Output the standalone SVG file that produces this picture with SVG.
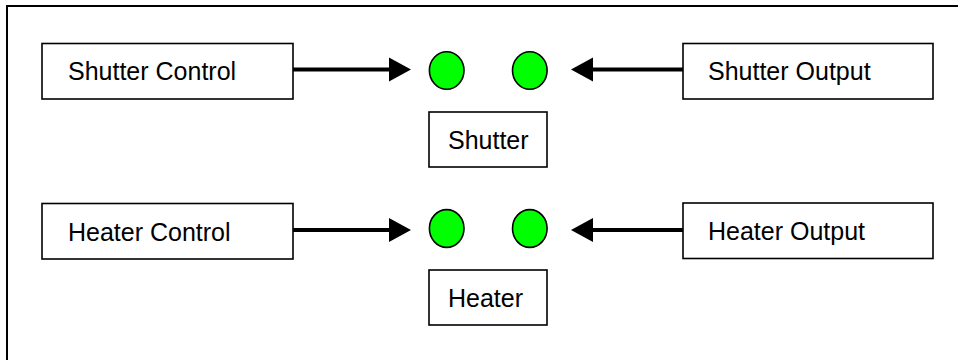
<svg xmlns="http://www.w3.org/2000/svg" width="958" height="360" viewBox="0 0 958 360">
  <defs>
    <marker id="arr" markerUnits="userSpaceOnUse" markerWidth="23" markerHeight="25" refX="1" refY="12" orient="auto" overflow="visible">
      <path d="M0,0 L22,12 L0,24 Z" fill="#000"/>
    </marker>
    <style>
      .box { fill: #fff; stroke: #000; stroke-width: 1.6; }
      .led { fill: #00ff00; stroke: #000; stroke-width: 1.6; }
      .lbl { font-family: "Liberation Sans", Arial, sans-serif; font-size: 25px; fill: #000; }
      .conn { stroke: #000; stroke-width: 4; fill: none; }
      .frame { stroke: #000; stroke-width: 2; fill: none; }
    </style>
  </defs>
  <rect x="0" y="0" width="958" height="360" fill="#fff"/>
  <path class="frame" d="M7,362 L7,6 L960,6"/>

  <g id="shutter-control">
    <rect class="box" x="42" y="43.5" width="251" height="55.5"/>
    <text class="lbl" x="68" y="80">Shutter Control</text>
  </g>
  <g id="shutter-output">
    <rect class="box" x="683" y="43.5" width="250" height="55.5"/>
    <text class="lbl" x="708" y="80">Shutter Output</text>
  </g>
  <g id="shutter-led-in">
    <ellipse class="led" cx="446.7" cy="70.5" rx="17.3" ry="18.7"/>
  </g>
  <g id="shutter-led-out">
    <ellipse class="led" cx="529.8" cy="70.5" rx="17.3" ry="18.7"/>
  </g>
  <g id="shutter">
    <rect class="box" x="429" y="112" width="118" height="55"/>
    <text class="lbl" x="448" y="148.5">Shutter</text>
  </g>

  <g id="heater-control">
    <rect class="box" x="42" y="203.5" width="251" height="55.5"/>
    <text class="lbl" x="68" y="240.5">Heater Control</text>
  </g>
  <g id="heater-output">
    <rect class="box" x="683" y="203" width="250" height="55.5"/>
    <text class="lbl" x="708" y="240">Heater Output</text>
  </g>
  <g id="heater-led-in">
    <ellipse class="led" cx="446.7" cy="228.5" rx="17.3" ry="18.9"/>
  </g>
  <g id="heater-led-out">
    <ellipse class="led" cx="529.8" cy="228.5" rx="17.3" ry="18.9"/>
  </g>
  <g id="heater">
    <rect class="box" x="429" y="270" width="118" height="55"/>
    <text class="lbl" x="448" y="307">Heater</text>
  </g>

  <g id="connectors">
    <line class="conn" x1="293" y1="69.5" x2="390" y2="69.5" marker-end="url(#arr)"/>
    <line class="conn" x1="683" y1="69.5" x2="592" y2="69.5" marker-end="url(#arr)"/>
    <line class="conn" x1="293" y1="230" x2="390" y2="230" marker-end="url(#arr)"/>
    <line class="conn" x1="683" y1="230" x2="592" y2="230" marker-end="url(#arr)"/>
  </g>
</svg>
